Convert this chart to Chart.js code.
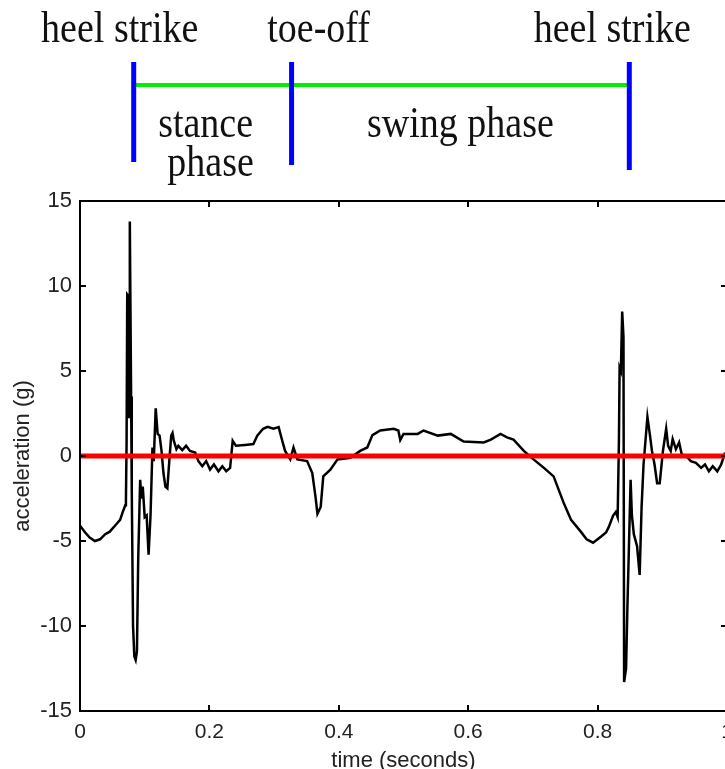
<!DOCTYPE html>
<html>
<head>
<meta charset="utf-8">
<script src="https://cdn.jsdelivr.net/npm/chart.js@4/dist/chart.umd.min.js"></script>
<style>
  html, body { margin: 0; padding: 0; background: #fff; overflow: hidden; }
  #wrap { width: 760px; height: 769px; }
</style>
</head>
<body>
<div id="wrap"><canvas id="gaitChart"></canvas></div>
<script>
// accelerometer trace
const timeSec = [
  0.000, 0.008, 0.015, 0.023, 0.031, 0.039, 0.046, 0.054, 0.062, 0.066,
  0.070, 0.071, 0.072, 0.073, 0.075, 0.076, 0.077, 0.079, 0.080, 0.082,
  0.084, 0.086, 0.088, 0.090, 0.093, 0.095, 0.097, 0.100, 0.103, 0.106,
  0.109, 0.112, 0.114, 0.117, 0.120, 0.123, 0.126, 0.129, 0.132, 0.135,
  0.138, 0.141, 0.143, 0.145, 0.149, 0.152, 0.158, 0.164, 0.170, 0.178,
  0.183, 0.189, 0.195, 0.201, 0.207, 0.214, 0.220, 0.226, 0.232, 0.236,
  0.241, 0.255, 0.268, 0.274, 0.283, 0.290, 0.299, 0.307, 0.313, 0.317,
  0.325, 0.330, 0.336, 0.351, 0.359, 0.364, 0.367, 0.372, 0.376, 0.387,
  0.398, 0.418, 0.433, 0.444, 0.452, 0.464, 0.485, 0.492, 0.495, 0.500,
  0.522, 0.531, 0.553, 0.573, 0.593, 0.624, 0.635, 0.650, 0.660, 0.670,
  0.686, 0.701, 0.717, 0.732, 0.748, 0.759, 0.774, 0.783, 0.793, 0.805,
  0.813, 0.817, 0.824, 0.828, 0.831, 0.833, 0.834, 0.836, 0.838, 0.840,
  0.841, 0.844, 0.846, 0.848, 0.851, 0.853, 0.856, 0.861, 0.865, 0.868,
  0.871, 0.877, 0.881, 0.884, 0.888, 0.892, 0.896, 0.901, 0.906, 0.909,
  0.913, 0.916, 0.921, 0.926, 0.930, 0.937, 0.944, 0.952, 0.960, 0.966,
  0.972, 0.978, 0.985, 0.991, 0.997
];
const accelG = [
  -4.1, -4.5, -4.8, -5.0, -4.9, -4.6, -4.45, -4.1, -3.76, -3.3,
  -2.9, -2.6, 0.8, 9.5, 9.4, 2.3, 13.8, 3.5, -2.0, -10.0,
  -11.8, -12.0, -11.5, -6.0, -1.4, -2.5, -1.8, -3.6, -3.5, -5.8,
  -3.5, 0.5, -0.3, 2.8, 1.3, 1.2, 0.3, -1.0, -1.8, -1.9,
  -0.3, 1.2, 1.35, 0.9, 0.4, 0.6, 0.35, 0.6, 0.3, 0.2,
  -0.3, -0.6, -0.3, -0.8, -0.5, -0.9, -0.6, -0.9, -0.7, 0.9,
  0.6, 0.65, 0.7, 1.2, 1.6, 1.72, 1.6, 1.7, 0.84, 0.3,
  -0.2, 0.5, -0.2, -0.3, -1.0, -2.4, -3.4, -3.0, -1.2, -0.8,
  -0.2, -0.1, 0.3, 0.5, 1.23, 1.5, 1.6, 1.5, 0.94, 1.3,
  1.3, 1.5, 1.2, 1.3, 0.85, 0.8, 0.96, 1.3, 1.1, 0.96,
  0.3, -0.2, -0.7, -1.2, -2.8, -3.76, -4.45, -4.9, -5.1, -4.75,
  -4.5, -4.2, -3.5, -3.3, -3.6, 1.0, 5.2, 5.0, 8.5, 7.0,
  -13.3, -12.5, -9.0, -6.0, -1.4, -3.5, -4.6, -5.3, -7.0, -3.0,
  -0.5, 2.3, 1.2, 0.3, -0.5, -1.6, -1.6, 0.3, 1.6, 0.6,
  0.3, 1.0, 0.4, 0.8, 0.1, 0.0, -0.3, -0.4, -0.7, -0.5,
  -0.9, -0.6, -0.9, -0.5, 0.2
];
const zeroLineX = [0, 1];
const zeroLineY = [0, 0];

// gait events drawn above the plot
const eventTimes = [0.083, 0.327, 0.849];
const eventLabels = ['heel strike', 'toe-off', 'heel strike'];
const phaseLabels = [['stance', 'phase'], ['swing phase']];

const yTicks = [-15, -10, -5, 0, 5, 10, 15];

function tallText(ctx, s, x, y) {
  ctx.save();
  ctx.translate(x, y);
  ctx.scale(1, 1.15);
  ctx.fillText(s, 0, 0);
  ctx.restore();
}

const gaitMarks = {
  id: 'gaitMarks',
  afterDraw(chart) {
    const { ctx, chartArea: a, scales: { x, y } } = chart;
    ctx.save();

    // MATLAB style box with inward ticks
    ctx.strokeStyle = '#000';
    ctx.lineWidth = 2;
    ctx.strokeRect(a.left, a.top, a.right - a.left, a.bottom - a.top);
    ctx.beginPath();
    x.ticks.forEach(t => {
      const px = Math.round(x.getPixelForValue(t.value));
      ctx.moveTo(px, a.bottom); ctx.lineTo(px, a.bottom - 6);
      ctx.moveTo(px, a.top); ctx.lineTo(px, a.top + 6);
    });
    y.ticks.forEach(t => {
      const py = Math.round(y.getPixelForValue(t.value));
      ctx.moveTo(a.left, py); ctx.lineTo(a.left + 6, py);
      ctx.moveTo(a.right, py); ctx.lineTo(a.right - 6, py);
    });
    ctx.stroke();

    // phase bar
    const ex = eventTimes.map(t => x.getPixelForValue(t));
    ctx.strokeStyle = '#00ee00';
    ctx.lineWidth = 4;
    ctx.beginPath();
    ctx.moveTo(ex[0], 85);
    ctx.lineTo(ex[2], 85);
    ctx.stroke();

    const bottoms = [162, 165, 170];
    ctx.strokeStyle = '#0000ff';
    ctx.lineWidth = 5;
    ex.forEach((px, i) => {
      ctx.beginPath();
      ctx.moveTo(px, 62);
      ctx.lineTo(px, bottoms[i]);
      ctx.stroke();
    });

    ctx.fillStyle = '#111';
    ctx.font = '38px "Liberation Serif", "Times New Roman", serif';
    ctx.textAlign = 'center';
    ctx.textBaseline = 'alphabetic';
    const labelShift = [-14, 27, -17];
    eventLabels.forEach((s, i) => tallText(ctx, s, ex[i] + labelShift[i], 42));

    const stanceX = (ex[0] + ex[1]) / 2 - 7;
    tallText(ctx, phaseLabels[0][0], stanceX, 137);
    tallText(ctx, phaseLabels[0][1], stanceX + 5, 176);
    tallText(ctx, phaseLabels[1][0], (ex[1] + ex[2]) / 2, 137);

    ctx.restore();
  }
};

Chart.defaults.font.family = '"Liberation Sans", Arial, sans-serif';
Chart.defaults.color = '#222';

new Chart(document.getElementById('gaitChart'), {
  type: 'line',
  data: {
    datasets: [
      {
        label: 'zero',
        data: zeroLineX.map((t, i) => ({ x: t, y: zeroLineY[i] })),
        borderColor: '#ff0000',
        borderWidth: 5,
        pointRadius: 0,
        order: 0
      },
      {
        label: 'acceleration',
        data: timeSec.map((t, i) => ({ x: t, y: accelG[i] })),
        borderColor: '#000',
        borderWidth: 2.5,
        pointRadius: 0,
        tension: 0,
        order: 1
      }
    ]
  },
  options: {
    responsive: true,
    maintainAspectRatio: false,
    animation: false,
    layout: { padding: { top: 201, right: 33, left: 0, bottom: 0 } },
    plugins: { legend: { display: false }, tooltip: { enabled: false } },
    scales: {
      x: {
        type: 'linear',
        min: 0,
        max: 1,
        grid: { display: false, drawTicks: false },
        border: { display: false },
        ticks: {
          stepSize: 0.2, padding: 9, maxRotation: 0, font: { size: 21 },
          callback: v => String(Number(v.toFixed(1)))
        },
        title: { display: true, text: 'time (seconds)', font: { size: 22 }, padding: { top: 0, bottom: -5 } },
        afterFit(scale) { scale.height = 58; }
      },
      y: {
        min: yTicks[0],
        max: yTicks[yTicks.length - 1],
        grid: { display: false, drawTicks: false },
        border: { display: false },
        ticks: { stepSize: 5, padding: 8, font: { size: 22 } },
        title: { display: true, text: 'acceleration (g)', font: { size: 22 }, padding: { top: 10, bottom: 0 } },
        afterFit(scale) { scale.width = 80; }
      }
    }
  },
  plugins: [gaitMarks]
});
</script>
</body>
</html>
